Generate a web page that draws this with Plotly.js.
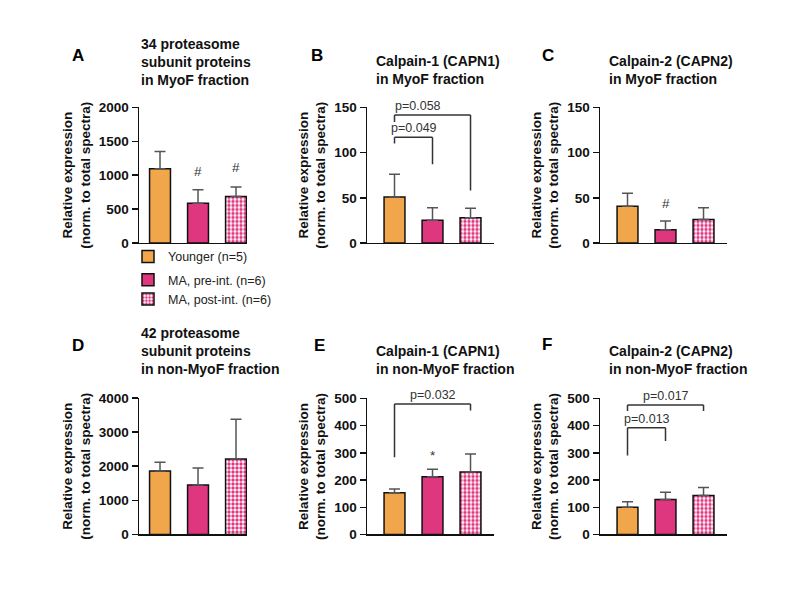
<!DOCTYPE html>
<html>
<head>
<meta charset="utf-8">
<script src="https://cdn.plot.ly/plotly-3.0.1.min.js"></script>
<style>html,body{margin:0;padding:0;background:#fff}#chart{width:800px;height:600px}</style>
</head>
<body>
<div id="chart"></div>
<script>
// ---------- data ----------
const groups = ['Younger (n=5)', 'MA, pre-int. (n=6)', 'MA, post-int. (n=6)'];

const meanA = [1095, 585, 685];  const errA = [255, 200, 140];
const meanB = [51, 25, 28];      const errB = [25, 14, 10.5];
const meanC = [40.6, 14.7, 26];  const errC = [14.5, 9.5, 13];
const meanD = [1860, 1450, 2215];const errD = [260, 495, 1165];
const meanE = [153, 212, 230];   const errE = [14, 28, 66];
const meanF = [100, 129, 143];   const errF = [20, 26, 30];

// y-axis tick labels per panel
const ticksA = [0, 500, 1000, 1500, 2000];
const ticksB = [0, 50, 100, 150];
const ticksC = [0, 50, 100, 150];
const ticksD = [0, 1000, 2000, 3000, 4000];
const ticksE = [0, 100, 200, 300, 400, 500];
const ticksF = [0, 100, 200, 300, 400, 500];

// significance symbols: [symbol, group index, y value]
const sigA = [['#', 1, 1050], ['#', 2, 1120]];
const sigB = [];
const sigC = [['#', 1, 44]];
const sigD = [];
const sigE = [['*', 1, 292]];
const sigF = [];

// brackets: [from group, to group, top y, left leg bottom, right leg bottom, label]
const brA = [];
const brB = [[0, 2, 141.7, 134, 58, 'p=0.058'], [0, 1, 117, 110, 87, 'p=0.049']];
const brC = [];
const brD = [];
const brE = [[0, 2, 480, 284, 456, 'p=0.032']];
const brF = [[0, 2, 476, 454, 454, 'p=0.017'], [0, 1, 392, 290, 344, 'p=0.013']];

const titles = [
  '34 proteasome<br>subunit proteins<br>in MyoF fraction',
  'Calpain-1 (CAPN1)<br>in MyoF fraction',
  'Calpain-2 (CAPN2)<br>in MyoF fraction',
  '42 proteasome<br>subunit proteins<br>in non-MyoF fraction',
  'Calpain-1 (CAPN1)<br>in non-MyoF fraction',
  'Calpain-2 (CAPN2)<br>in non-MyoF fraction'
];
const letters = ['A', 'B', 'C', 'D', 'E', 'F'];
const yTitle = 'Relative expression<br>(norm. to total spectra)';

// ---------- styling / layout ----------
const FONT = 'Liberation Sans, Arial, Helvetica, sans-serif';
const colOrange = '#F2A64C';
const colMagenta = '#DF3680';
const W = 800, H = 600;
const px = v => v / W;
const py = v => 1 - v / H;

const panels = [
  {mean: meanA, err: errA, sig: sigA, br: brA, ticks: ticksA, xd: [139, 247], yd: [103, 242],   xr: [-0.553, 2.289], tpos: [139, 56],  lpos: [70, 50]},
  {mean: meanB, err: errB, sig: sigB, br: brB, ticks: ticksB, xd: [367, 494], yd: [103, 242],   xr: [-0.724, 2.618], tpos: [374, 65],  lpos: [309, 50]},
  {mean: meanC, err: errC, sig: sigC, br: brC, ticks: ticksC, xd: [600, 727], yd: [103, 242],   xr: [-0.724, 2.618], tpos: [607, 65],  lpos: [540, 50]},
  {mean: meanD, err: errD, sig: sigD, br: brD, ticks: ticksD, xd: [139, 247], yd: [401, 541],   xr: [-0.553, 2.289], tpos: [139, 353], lpos: [70, 347]},
  {mean: meanE, err: errE, sig: sigE, br: brE, ticks: ticksE, xd: [367, 494], yd: [401.5, 541], xr: [-0.724, 2.618], tpos: [374, 362], lpos: [312, 347]},
  {mean: meanF, err: errF, sig: sigF, br: brF, ticks: ticksF, xd: [600, 727], yd: [401.5, 541], xr: [-0.724, 2.618], tpos: [607, 362], lpos: [540, 346]}
];

const traces = [];
const shapes = [];
const annotations = [];
const layout = {
  width: W, height: H,
  margin: {l: 0, r: 0, t: 0, b: 0},
  paper_bgcolor: '#fff', plot_bgcolor: '#fff',
  font: {family: FONT, color: '#111'},
  barmode: 'overlay',
  showlegend: true,
  legend: {
    x: px(128), y: py(241), xanchor: 'left', yanchor: 'top',
    font: {family: FONT, size: 12.5, color: '#222'},
    traceorder: 'grouped', tracegroupgap: 4, itemwidth: 30,
    bgcolor: 'rgba(0,0,0,0)'
  }
};

function markerFor(g) {
  const base = {line: {color: '#111', width: 1.5}};
  if (g === 0) return Object.assign(base, {color: colOrange});
  if (g === 1) return Object.assign(base, {color: colMagenta});
  return Object.assign(base, {color: '#fff', pattern: {shape: '.', fgcolor: colMagenta, bgcolor: '#fff', size: 4, solidity: 0.55, fillmode: 'replace'}});
}

panels.forEach((p, i) => {
  const n = i === 0 ? '' : String(i + 1);
  const xa = 'x' + n, ya = 'y' + n;
  groups.forEach((g, gi) => {
    traces.push({
      type: 'bar', x: [g], y: [p.mean[gi]], name: g,
      xaxis: xa, yaxis: ya, width: 0.55,
      marker: markerFor(gi),
      error_y: {type: 'data', symmetric: false, array: [p.err[gi]], arrayminus: [0], color: '#555', thickness: 1.5, width: 5.5},
      showlegend: i === 0, legendgroup: gi === 0 ? 'a' : 'b',
      hoverinfo: 'skip'
    });
  });
  layout['xaxis' + n] = {
    domain: [px(p.xd[0]), px(p.xd[1])], anchor: ya,
    type: 'category', categoryorder: 'array', categoryarray: groups,
    range: p.xr, showline: true, linecolor: '#111', linewidth: 1.5,
    ticks: '', showticklabels: false, showgrid: false, zeroline: false, fixedrange: true
  };
  layout['yaxis' + n] = {
    domain: [py(p.yd[1]), py(p.yd[0])], anchor: xa,
    range: [p.ticks[0], p.ticks[p.ticks.length - 1]],
    tickmode: 'array', tickvals: p.ticks, ticktext: p.ticks.map(t => '<b>' + t + '</b>'),
    showline: true, linecolor: '#111', linewidth: 1.5,
    ticks: 'outside', ticklen: 6, tickwidth: 1.5, tickcolor: '#111',
    tickfont: {family: FONT, size: 13.5, color: '#111'},
    showgrid: false, zeroline: false, fixedrange: true, automargin: true,
    title: {text: '<b>' + yTitle.replace('<br>', '</b><br><b>') + '</b>', standoff: 5, font: {family: FONT, size: 13.5, color: '#111'}}
  };
  // brackets
  p.br.forEach(b => {
    const [g0, g1, yt, yl, yrr, lab] = b;
    const common = {type: 'line', xref: xa, yref: ya, line: {color: '#333', width: 1.5}};
    shapes.push(Object.assign({}, common, {x0: g0, x1: g1, y0: yt, y1: yt}));
    shapes.push(Object.assign({}, common, {x0: g0, x1: g0, y0: yl, y1: yt}));
    shapes.push(Object.assign({}, common, {x0: g1, x1: g1, y0: yrr, y1: yt}));
    const leftAlign = (g1 - g0) > 1 && i === 1;
    annotations.push({
      xref: xa, yref: ya, x: leftAlign ? g0 : (g0 + g1) / 2, y: yt,
      xanchor: leftAlign ? 'left' : 'center', yanchor: 'bottom', xshift: leftAlign ? -2 : 0, yshift: 0,
      text: lab, showarrow: false, font: {family: FONT, size: 12.5, color: '#333'}
    });
  });
  // significance marks
  p.sig.forEach(s => {
    annotations.push({
      xref: xa, yref: ya, x: s[1], y: s[2], xanchor: 'center', yanchor: 'middle',
      text: s[0], showarrow: false, font: {family: FONT, size: 13.5, color: '#333'}
    });
  });
  // panel title
  annotations.push({
    xref: 'paper', yref: 'paper', x: px(p.tpos[0]), y: py(p.tpos[1]),
    xanchor: 'left', yanchor: 'middle', align: 'left', showarrow: false,
    text: titles[i].split('<br>').map(s => '<b>' + s + '</b>').join('<br>'),
    font: {family: FONT, size: 14, color: '#111'}
  });
  // panel letter
  annotations.push({
    xref: 'paper', yref: 'paper', x: px(p.lpos[0]), y: py(p.lpos[1]),
    xanchor: 'left', yanchor: 'middle', showarrow: false,
    text: '<b>' + letters[i] + '</b>', font: {family: FONT, size: 17, color: '#000'}
  });
});

layout.shapes = shapes;
layout.annotations = annotations;

Plotly.newPlot('chart', traces, layout, {displayModeBar: false, staticPlot: true});
</script>
</body>
</html>
